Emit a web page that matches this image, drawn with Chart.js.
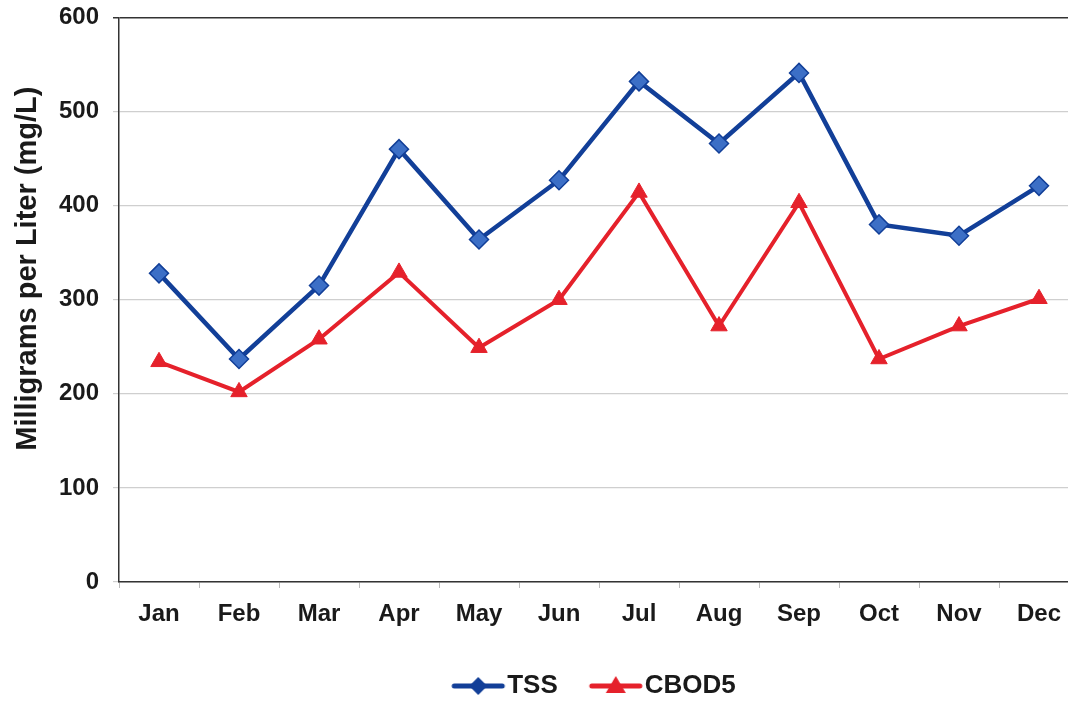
<!DOCTYPE html>
<html>
<head>
<meta charset="utf-8">
<script src="https://cdn.jsdelivr.net/npm/chart.js@4/dist/chart.umd.min.js"></script>
<style>
  html, body { margin: 0; padding: 0; background: #fff; overflow: hidden; }
  #wrap { width: 1100px; height: 720px; margin-top: -11px; }
</style>
</head>
<body>
<div id="wrap"><canvas id="c" width="1100" height="720"></canvas></div>
<script>
// Monthly concentrations, mg/L
const months = ['Jan', 'Feb', 'Mar', 'Apr', 'May', 'Jun', 'Jul', 'Aug', 'Sep', 'Oct', 'Nov', 'Dec'];
const tss   = [328, 237, 315, 460, 364, 427, 532, 466, 541, 380, 368, 421];
const cbod5 = [234, 202, 258, 329, 249, 300, 414, 272, 403, 237, 272, 301];
const yTicks = [0, 100, 200, 300, 400, 500, 600];
const yTitle = 'Milligrams per Liter (mg/L)';

const FONT = '"Liberation Sans", Arial, sans-serif';
const BLUE_LINE = '#123f98';
const BLUE_FILL = '#3c6fc6';
const RED = '#e5212b';

// Legend swatch: a short line with the series marker in its middle
function legendSwatch(color, fill, shape) {
  const cv = document.createElement('canvas');
  cv.width = 56; cv.height = 24;
  const g = cv.getContext('2d');
  g.strokeStyle = color; g.lineWidth = 5; g.lineCap = 'round';
  g.beginPath(); g.moveTo(4, 12); g.lineTo(52, 12); g.stroke();
  g.fillStyle = fill;
  g.beginPath();
  if (shape === 'diamond') {
    g.moveTo(28, 3); g.lineTo(37, 12); g.lineTo(28, 21); g.lineTo(19, 12);
  } else {
    g.moveTo(28, 2); g.lineTo(38, 19); g.lineTo(18, 19);
  }
  g.closePath(); g.fill();
  return cv;
}
const tssSwatch = legendSwatch(BLUE_LINE, BLUE_LINE, 'diamond');
const cbodSwatch = legendSwatch(RED, RED, 'triangle');

// Vertical axis title, drawn beside the value labels and a little above centre
const axisTitlePlugin = {
  id: 'axisTitle',
  afterDraw(chart) {
    const { ctx, chartArea } = chart;
    ctx.save();
    ctx.translate(28, (chartArea.top + chartArea.bottom) / 2 - 31);
    ctx.rotate(-Math.PI / 2);
    ctx.font = 'bold 29px ' + FONT;
    ctx.fillStyle = '#1a1a1a';
    ctx.textAlign = 'center';
    ctx.textBaseline = 'middle';
    ctx.fillText(yTitle, 0, 0);
    ctx.restore();
  }
};

new Chart(document.getElementById('c'), {
  type: 'line',
  data: {
    labels: months,
    datasets: [
      {
        label: 'TSS',
        data: tss,
        borderColor: BLUE_LINE,
        backgroundColor: BLUE_FILL,
        borderWidth: 4.5,
        pointStyle: 'rectRot',
        pointRadius: 9.5,
        pointBackgroundColor: BLUE_FILL,
        pointBorderColor: BLUE_LINE,
        pointBorderWidth: 1.5,
        tension: 0
      },
      {
        label: 'CBOD5',
        data: cbod5,
        borderColor: RED,
        backgroundColor: RED,
        borderWidth: 4,
        pointStyle: 'triangle',
        pointRadius: 9.5,
        pointBackgroundColor: RED,
        pointBorderColor: RED,
        pointBorderWidth: 1,
        tension: 0
      }
    ]
  },
  plugins: [axisTitlePlugin],
  options: {
    responsive: false,
    animation: false,
    layout: { padding: { left: 0, top: 7, right: 21, bottom: 0 } },
    plugins: {
      tooltip: { enabled: false },
      legend: {
        position: 'bottom',
        fullSize: false,
        labels: {
          usePointStyle: true,
          pointStyleWidth: 32,
          padding: 42,
          color: '#1a1a1a',
          font: { family: FONT, size: 26, weight: 'bold' },
          generateLabels: (chart) => chart.data.datasets.map((ds, i) => ({
            text: ds.label,
            pointStyle: i === 0 ? tssSwatch : cbodSwatch,
            fillStyle: ds.borderColor,
            strokeStyle: ds.borderColor,
            lineWidth: 0,
            fontColor: '#1a1a1a',
            datasetIndex: i,
            hidden: false
          }))
        }
      }
    },
    scales: {
      x: {
        offset: true,
        border: { display: true, color: '#333', width: 1.5 },
        grid: {
          display: true,
          offset: true,
          drawOnChartArea: false,
          drawTicks: true,
          tickLength: 6,
          color: '#bbb'
        },
        ticks: {
          color: '#1a1a1a',
          padding: 12,
          font: { family: FONT, size: 24, weight: 'bold' }
        },
        afterFit: (s) => { s.height = 49; }
      },
      y: {
        min: 0,
        max: 600,
        afterBuildTicks: (s) => { s.ticks = yTicks.map(v => ({ value: v })); },
        border: { display: true, color: '#333', width: 1.5 },
        grid: {
          color: (ctx) => (ctx.tick && ctx.tick.value === 600) ? '#333' : '#cfcfcf',
          lineWidth: (ctx) => (ctx.tick && ctx.tick.value === 600) ? 1.5 : 1.2,
          tickLength: 6
        },
        ticks: {
          color: '#1a1a1a',
          padding: 14,
          font: { family: FONT, size: 24, weight: 'bold' }
        },
        afterFit: (s) => { s.width = 119; }
      }
    }
  }
});
</script>
</body>
</html>
